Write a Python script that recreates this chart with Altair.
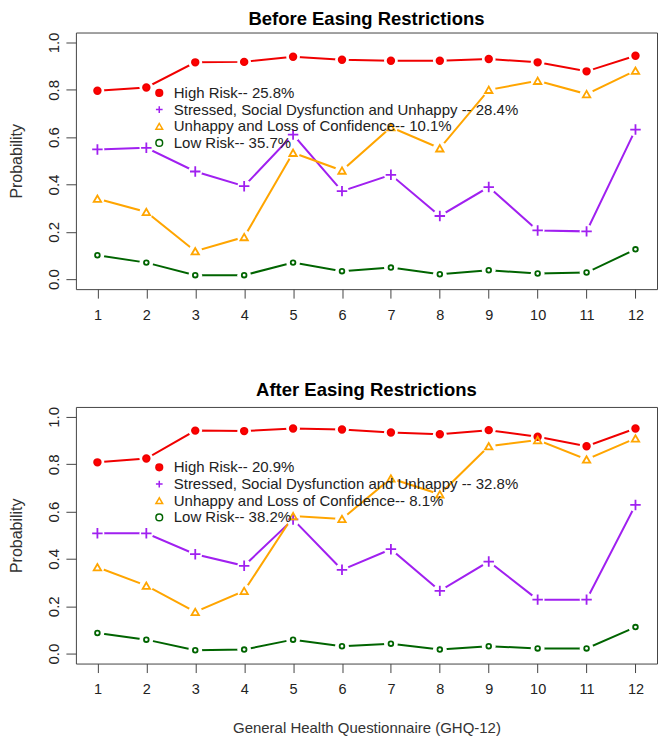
import altair as alt
import pandas as pd

questions = list(range(1, 13))
series_names = [
    "High Risk",
    "Stressed, Social Dysfunction and Unhappy ",
    "Unhappy and Loss of Confidence",
    "Low Risk",
]
before_pct = ["25.8%", "28.4%", "10.1%", "35.7%"]
after_pct = ["20.9%", "32.8%", "8.1%", "38.2%"]

before_high = [0.796, 0.810, 0.916, 0.918, 0.940, 0.927, 0.923, 0.923, 0.930, 0.916, 0.878, 0.944]
before_stress = [0.548, 0.555, 0.455, 0.393, 0.611, 0.372, 0.441, 0.267, 0.389, 0.206, 0.202, 0.632]
before_unhappy = [0.340, 0.284, 0.118, 0.178, 0.534, 0.459, 0.642, 0.553, 0.800, 0.838, 0.782, 0.881]
before_low = [0.101, 0.070, 0.017, 0.017, 0.070, 0.034, 0.049, 0.021, 0.038, 0.024, 0.028, 0.126]

after_high = [0.808, 0.824, 0.942, 0.940, 0.951, 0.947, 0.934, 0.927, 0.944, 0.916, 0.876, 0.951]
after_stress = [0.508, 0.508, 0.420, 0.371, 0.567, 0.354, 0.441, 0.265, 0.389, 0.228, 0.228, 0.628]
after_unhappy = [0.365, 0.287, 0.176, 0.265, 0.581, 0.569, 0.740, 0.673, 0.876, 0.902, 0.820, 0.909]
after_low = [0.087, 0.059, 0.014, 0.017, 0.059, 0.031, 0.042, 0.017, 0.031, 0.022, 0.022, 0.112]

y_ticks = [0.0, 0.2, 0.4, 0.6, 0.8, 1.0]

colors = ["#F00000", "#A020F0", "#FFA500", "#006400"]
fills = ["#FF0000", "transparent", "transparent", "transparent"]
shapes = ["circle", "M-1,0L1,0M0,-1L0,1", "triangle-up", "circle"]
sizes = [44, 110, 55, 22]

FONT = "Liberation Sans"


def panel(title, series_vals, pcts, show_x_title, title_offset):
    labels = [f"{n}-- {p}" for n, p in zip(series_names, pcts)]
    rows = []
    for lab, arr, sz in zip(labels, series_vals, sizes):
        for q, v in zip(questions, arr):
            rows.append({"q": q, "p": v, "s": lab, "sz": sz})
    df = pd.DataFrame(rows)

    x = alt.X(
        "q:Q",
        scale=alt.Scale(domain=[0.56, 12.44], nice=False, zero=False),
        axis=alt.Axis(
            values=questions, format="d", grid=False, domain=False,
            tickSize=9, tickColor="#444", labelPadding=10, labelFontSize=14.5,
            labelFont=FONT, labelColor="#222", labelFlush=False,
            title="General Health Questionnaire (GHQ-12)" if show_x_title else None,
            titleFont=FONT, titleFontSize=15, titleFontWeight="normal",
            titleColor="#333", titlePadding=25,
        ),
    )
    y = alt.Y(
        "p:Q",
        scale=alt.Scale(domain=[-0.042, 1.042], nice=False, zero=False),
        axis=alt.Axis(
            values=y_ticks, format=".1f", grid=False, domain=False,
            tickSize=10, tickColor="#444", labelPadding=4, labelFontSize=15,
            labelFont=FONT, labelColor="#222", labelAngle=-90, labelFlush=False,
            title="Probability", titleFont=FONT, titleFontSize=16,
            titleFontWeight="normal", titleColor="#333", titlePadding=22,
        ),
    )
    leg = dict(
        title=None, orient="none", legendX=76, legendY=53, padding=0,
        labelFont=FONT, labelFontSize=15, labelColor="#222", labelOffset=7,
        rowPadding=0.7, symbolStrokeWidth=1.5, symbolSize=45, labelLimit=600,
    )
    stroke = alt.Stroke("s:N", scale=alt.Scale(domain=labels, range=colors), legend=alt.Legend(**leg))
    lines = alt.Chart(df).mark_line(strokeWidth=2).encode(x=x, y=y, stroke=stroke)
    halos = alt.Chart(df).mark_circle(fill="#FFFFFF", stroke=None, opacity=1, size=190).encode(
        x=x, y=y
    )
    points = alt.Chart(df).mark_point(filled=False, opacity=1, strokeWidth=1.8).encode(
        x=x, y=y,
        stroke=stroke,
        fill=alt.Fill("s:N", scale=alt.Scale(domain=labels, range=fills), legend=alt.Legend(**leg)),
        shape=alt.Shape("s:N", scale=alt.Scale(domain=labels, range=shapes), legend=alt.Legend(**leg)),
        size=alt.Size("sz:Q", scale=None),
    )
    return alt.layer(lines, halos, points).properties(
        width=582, height=257,
        title=alt.TitleParams(title, font=FONT, fontSize=18.5, fontWeight="bold",
                              color="#000", offset=title_offset, anchor="middle"),
    )


top = panel("Before Easing Restrictions",
            [before_high, before_stress, before_unhappy, before_low], before_pct, False, 4)
bottom = panel("After Easing Restrictions",
               [after_high, after_stress, after_unhappy, after_low], after_pct, True, 7)

chart = (
    alt.vconcat(top, bottom, spacing=58)
    .resolve_scale(stroke="independent", fill="independent", shape="independent")
    .resolve_legend(stroke="independent", fill="independent", shape="independent")
    .properties(padding={"left": 0, "top": 0, "right": 0, "bottom": 0}, background="white")
    .configure_view(stroke="#444", strokeWidth=1)
)

chart.save("out.html", embed_options={"renderer": "svg", "actions": False})
